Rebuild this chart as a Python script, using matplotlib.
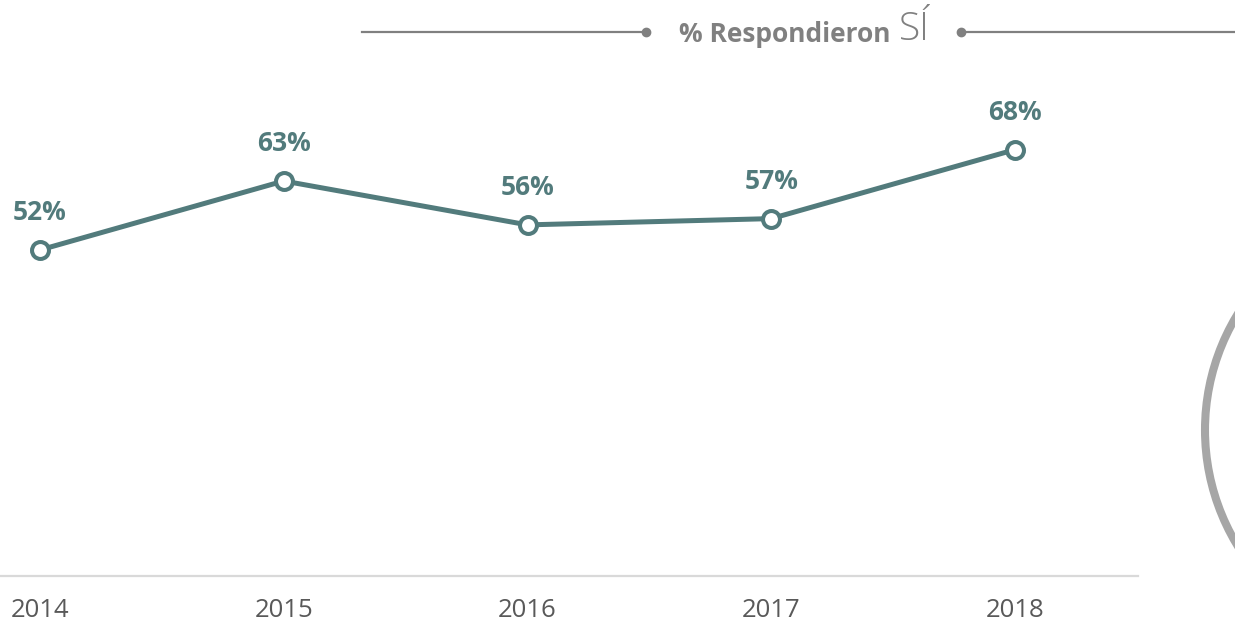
import matplotlib.pyplot as plt
from matplotlib.lines import Line2D
from matplotlib.patches import Circle

years = [2014, 2015, 2016, 2017, 2018]
si_pct = [52, 63, 56, 57, 68]
point_labels = ['52%', '63%', '56%', '57%', '68%']

W, H = 1235, 626
teal = '#527B7C'
plt.rcParams['font.family'] = ['Open Sans', 'DejaVu Sans']

fig = plt.figure(figsize=(W / 100, H / 100), dpi=100)

def fx(x):
    return x / W

def fy(y):
    return 1 - y / H

# main axes: 0..1138 px wide, baseline at 576 px
ax = fig.add_axes([0, fy(576), fx(1138), 576 / H])
step = 243.75
left = years[0] - 40 / step
ax.set_xlim(left, left + 1138 / step)
ax.set_ylim(0, 576 / 6.27)

ax.plot(years, si_pct, color=teal, lw=3.6, marker='o', ms=12.2,
        mfc='white', mec=teal, mew=2.9, zorder=3, clip_on=False)
for x, v, lab in zip(years, si_pct, point_labels):
    ax.annotate(lab, (x, v), xytext=(0, 27), textcoords='offset points',
                ha='center', va='center', fontsize=19, fontweight='bold', color=teal)

for s in ['top', 'right', 'left']:
    ax.spines[s].set_visible(False)
ax.spines['bottom'].set_color('#D9D9D9')
ax.spines['bottom'].set_linewidth(1.6)
ax.set_yticks([])
ax.set_xticks(years)
ax.set_xticklabels([str(y) for y in years], fontsize=18.5, color='#595959')
ax.tick_params(axis='x', length=0, pad=16)

# title with side lines
gray = '#808080'
fig.add_artist(Line2D([fx(362), fx(646)], [fy(32), fy(32)], color=gray, lw=1.6,
                      transform=fig.transFigure))
fig.add_artist(Line2D([fx(646)], [fy(32)], color=gray, marker='o', ms=6,
                      transform=fig.transFigure))
fig.add_artist(Line2D([fx(961), fx(1235)], [fy(32), fy(32)], color=gray, lw=1.6,
                      transform=fig.transFigure))
fig.add_artist(Line2D([fx(961)], [fy(32)], color=gray, marker='o', ms=6,
                      transform=fig.transFigure))
fig.text(fx(679), fy(35), '% Respondieron', ha='left', va='center',
         fontsize=19, fontweight='bold', color=gray)
fig.text(fx(899), fy(30), 'SÍ', ha='left', va='center',
         fontsize=28, fontweight='light', color=gray)

# decorative arc at right edge
fig.add_artist(Circle((1427, H - 430), 222, transform=None, fill=False,
                      ec='#A6A6A6', lw=5.8))

fig.savefig('out.png', dpi=100)
